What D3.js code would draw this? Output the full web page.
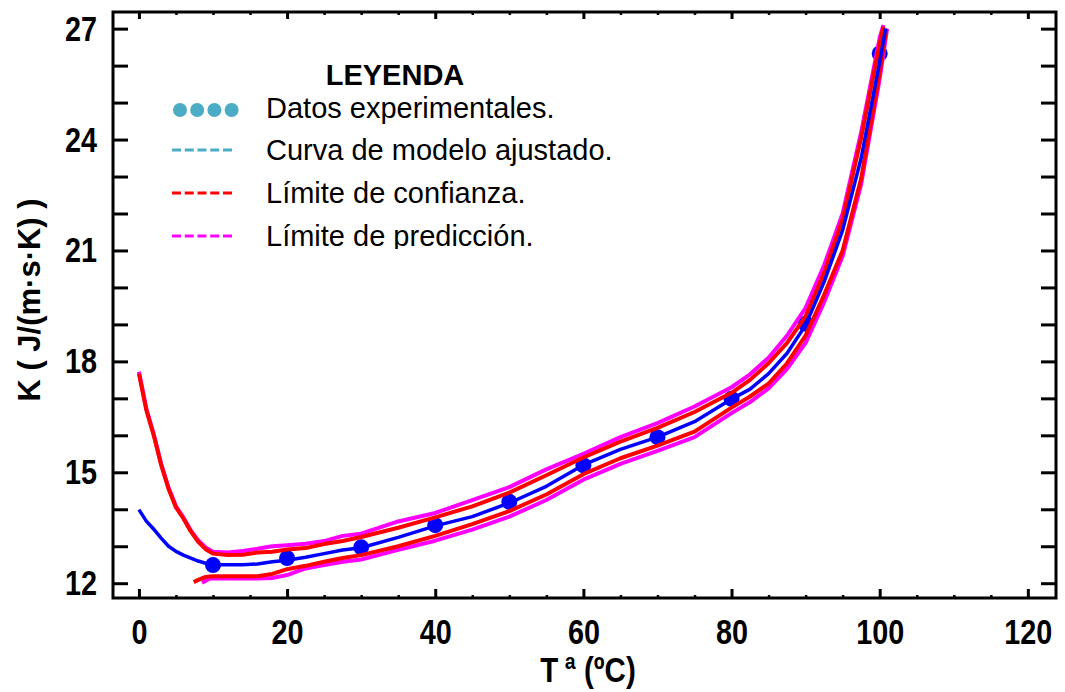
<!DOCTYPE html>
<html>
<head>
<meta charset="utf-8">
<script src="https://cdn.jsdelivr.net/npm/d3@7"></script>
<style>
  html, body { margin: 0; padding: 0; background: #fff; }
  svg { display: block; }
</style>
</head>
<body>
<svg id="chart" width="1065" height="692"></svg>
<script>
// ------------------------------------------------------------
// data
// ------------------------------------------------------------
var tempExp = [10, 20, 30, 40, 50, 60, 70, 80, 90, 100];
var kExp = [12.49, 12.68, 12.97, 13.57, 14.2, 15.19, 15.95, 16.99, 19.02, 26.33];

// fitted model curve
var fitT = [0, 1, 2, 3, 4, 5, 6, 7, 8, 9, 10, 12, 14, 16, 18, 20, 22.5, 25, 27.5, 30,
  35, 40, 45, 50, 55, 60, 65, 70, 75, 80, 82.5, 85, 87.5, 90, 92.5, 95, 97.5, 100, 100.8];
var fitK = [13.99, 13.68, 13.46, 13.22, 13.0, 12.86, 12.76, 12.68, 12.6, 12.54, 12.5,
  12.5, 12.5, 12.52, 12.58, 12.62, 12.7, 12.8, 12.9, 12.96,
  13.24, 13.55, 13.8, 14.17, 14.62, 15.2, 15.62, 15.95, 16.37, 16.98,
  17.25, 17.67, 18.22, 18.98, 20.15, 21.55, 23.5, 26.1, 27.0];

// upper limits (confidence / prediction)
var upperT = [0, 1, 2, 3, 4, 5, 6, 7, 8, 9, 10, 12, 14, 16, 18, 20, 22.5, 25, 27.5, 30,
  35, 40, 45, 50, 55, 60, 65, 70, 75, 80, 82.5, 85, 87.5, 90, 92.5, 95, 97.5, 100, 100.5];
var confHiK = [17.67, 16.68, 16.0, 15.2, 14.55, 14.05, 13.75, 13.4, 13.12, 12.92, 12.8,
  12.76, 12.77, 12.83, 12.85, 12.91, 12.95, 13.06, 13.14, 13.25,
  13.5, 13.78, 14.08, 14.45, 14.92, 15.4, 15.83, 16.2, 16.63, 17.15,
  17.5, 17.95, 18.5, 19.22, 20.4, 21.85, 24.05, 26.6, 27.05];
var predHiK = [17.72, 16.72, 16.03, 15.23, 14.58, 14.08, 13.78, 13.43, 13.16, 12.97, 12.85,
  12.83, 12.87, 12.93, 13.0, 13.03, 13.07, 13.14, 13.28, 13.34,
  13.67, 13.9, 14.25, 14.6, 15.08, 15.5, 15.95, 16.33, 16.78, 17.3,
  17.65, 18.1, 18.7, 19.45, 20.6, 22.0, 24.2, 26.75, 27.1];

// lower limits
var confLoT = [7.4, 8, 9, 10, 12, 14, 16, 18, 20, 22.5, 25, 27.5, 30,
  35, 40, 45, 50, 55, 60, 65, 70, 75, 80, 82.5, 85, 87.5, 90, 92.5, 95, 97.5, 100, 100.9];
var confLoK = [12.03, 12.09, 12.17, 12.19, 12.19, 12.19, 12.19, 12.25, 12.38, 12.47, 12.58, 12.68, 12.76,
  13.0, 13.28, 13.6, 13.95, 14.4, 14.95, 15.38, 15.72, 16.1, 16.75,
  17.05, 17.4, 17.95, 18.7, 19.8, 21.0, 22.95, 25.8, 27.0];
var predLoT = [8.5, 9.6, 12, 14, 16, 18, 20, 22.5, 25, 27.5, 30,
  35, 40, 45, 50, 55, 60, 65, 70, 75, 80, 82.5, 85, 87.5, 90, 92.5, 95, 97.5, 100, 101];
var predLoK = [12.01, 12.13, 12.13, 12.13, 12.13, 12.14, 12.22, 12.4, 12.49, 12.58, 12.64,
  12.9, 13.15, 13.45, 13.8, 14.25, 14.8, 15.23, 15.58, 15.95, 16.6,
  16.9, 17.27, 17.8, 18.5, 19.6, 20.85, 22.8, 25.65, 27.0];

var xMajorTicks = [0, 20, 40, 60, 80, 100, 120];
var xMinorTicks = [5, 10, 15, 25, 30, 35, 45, 50, 55, 65, 70, 75, 85, 90, 95, 105, 110, 115];
var yTicks = [12, 13, 14, 15, 16, 17, 18, 19, 20, 21, 22, 23, 24, 25, 26, 27];
var yTickLabels = [12, 15, 18, 21, 24, 27];

var legendTitle = 'LEYENDA';
var legendLabels = ['Datos experimentales.', 'Curva de modelo ajustado.',
  'Límite de confianza.', 'Límite de predicción.'];

// ------------------------------------------------------------
// chart
// ------------------------------------------------------------
var W = 1065, H = 692;
var margin = {top: 12, right: 9, bottom: 94, left: 113};
var width = W - margin.left - margin.right;
var height = H - margin.top - margin.bottom;
var FONT = '"Liberation Sans", Arial, Helvetica, sans-serif';

var svg = d3.select('#chart');

var x = d3.scaleLinear().domain([-3.5, 123.8]).range([0, width]);
var y = d3.scaleLinear().domain([11.6, 27.45]).range([height, 0]);

var g = svg.append('g')
  .attr('transform', 'translate(' + margin.left + ',' + margin.top + ')');

g.append('clipPath').attr('id', 'plot-clip')
  .append('rect').attr('width', width).attr('height', height);

function pairs(ts, ks) {
  return ts.map(function(t, i) { return [t, ks[i]]; });
}

var line = d3.line()
  .x(function(d) { return x(d[0]); })
  .y(function(d) { return y(d[1]); });

var plot = g.append('g').attr('clip-path', 'url(#plot-clip)');

// experimental points
plot.selectAll('circle.exp')
  .data(pairs(tempExp, kExp))
  .enter().append('circle')
  .attr('class', 'exp')
  .attr('cx', function(d) { return x(d[0]); })
  .attr('cy', function(d) { return y(d[1]); })
  .attr('r', 8)
  .attr('fill', '#0000ff');

var curves = [
  {t: upperT, k: predHiK, color: '#ff00ff', w: 4},
  {t: predLoT, k: predLoK, color: '#ff00ff', w: 4},
  {t: upperT, k: confHiK, color: '#ff0000', w: 4},
  {t: confLoT, k: confLoK, color: '#ff0000', w: 4},
  {t: fitT, k: fitK, color: '#0000ff', w: 3.5}
];

curves.forEach(function(c) {
  plot.append('path')
    .datum(pairs(c.t, c.k))
    .attr('d', line)
    .attr('fill', 'none')
    .attr('stroke', c.color)
    .attr('stroke-width', c.w)
    .attr('stroke-linejoin', 'round');
});

// ------------------------------------------------------------
// axes
// ------------------------------------------------------------
function styleAxis(sel, tickWidth) {
  sel.select('.domain').remove();
  sel.selectAll('.tick line').attr('stroke', '#000').attr('stroke-width', tickWidth);
  sel.selectAll('.tick text')
    .attr('fill', '#000')
    .attr('font-family', FONT)
    .attr('font-weight', 'bold')
    .attr('font-size', 36)
    .attr('transform', 'scale(0.8,1)');
}

g.append('g').attr('transform', 'translate(0,' + height + ')')
  .call(d3.axisBottom(x).tickValues(xMajorTicks).tickSizeInner(-9).tickSizeOuter(0).tickPadding(20))
  .call(styleAxis, 3);
g.append('g').attr('transform', 'translate(0,' + height + ')')
  .call(d3.axisBottom(x).tickValues(xMinorTicks).tickSizeInner(-3).tickSizeOuter(0).tickFormat(''))
  .call(styleAxis, 2.5);
g.append('g')
  .call(d3.axisTop(x).tickValues(xMajorTicks).tickSizeInner(-7).tickSizeOuter(0).tickFormat(''))
  .call(styleAxis, 3);
g.append('g')
  .call(d3.axisTop(x).tickValues(xMinorTicks).tickSizeInner(-3).tickSizeOuter(0).tickFormat(''))
  .call(styleAxis, 2.5);

g.append('g')
  .call(d3.axisLeft(y).tickValues(yTicks).tickSizeInner(-15).tickSizeOuter(0).tickPadding(20)
    .tickFormat(function(d) { return yTickLabels.indexOf(d) >= 0 ? d : ''; }))
  .call(styleAxis, 3);
g.append('g').attr('transform', 'translate(' + width + ',0)')
  .call(d3.axisRight(y).tickValues(yTicks).tickSizeInner(-15).tickSizeOuter(0).tickFormat(''))
  .call(styleAxis, 3);

// frame
g.append('rect')
  .attr('width', width).attr('height', height)
  .attr('fill', 'none').attr('stroke', '#000').attr('stroke-width', 3);

// axis titles
var xTitle = svg.append('text')
  .attr('transform', 'translate(588,682) scale(0.82,1)')
  .attr('text-anchor', 'middle')
  .attr('font-family', FONT).attr('font-weight', 'bold').attr('font-size', 36)
  .text('T');
xTitle.append('tspan').attr('dx', 8).text('ª (ºC)');

svg.append('text')
  .attr('transform', 'translate(29,300) rotate(-90)')
  .attr('text-anchor', 'middle')
  .attr('dy', '0.35em')
  .attr('font-family', FONT).attr('font-weight', 'bold').attr('font-size', 31)
  .text('K ( J/(m·s·K) )');

// ------------------------------------------------------------
// legend
// ------------------------------------------------------------
svg.append('clipPath').attr('id', 'legend-clip')
  .append('rect').attr('x', 150).attr('y', 40).attr('width', 500).attr('height', 209);

var legend = svg.append('g').attr('clip-path', 'url(#legend-clip)');

legend.append('text')
  .attr('x', 395).attr('y', 85)
  .attr('text-anchor', 'middle')
  .attr('font-family', FONT).attr('font-weight', 'bold').attr('font-size', 29)
  .text(legendTitle);

var legendColors = ['#4bacc6', '#4bacc6', '#ff0000', '#ff00ff'];
var rowY = [110, 150, 193, 236];
var baseY = [118, 160, 203, 246];

legend.selectAll('text.item')
  .data(legendLabels)
  .enter().append('text')
  .attr('class', 'item')
  .attr('x', 266)
  .attr('y', function(d, i) { return baseY[i]; })
  .attr('font-family', FONT).attr('font-size', 29)
  .attr('fill', '#000')
  .text(function(d) { return d; });

// dots symbol
legend.selectAll('circle.sym')
  .data([0, 1, 2, 3])
  .enter().append('circle')
  .attr('class', 'sym')
  .attr('cx', function(d) { return 180 + d * 17.2; })
  .attr('cy', rowY[0])
  .attr('r', 7)
  .attr('fill', legendColors[0]);

// dashed symbols
[1, 2, 3].forEach(function(i) {
  legend.append('line')
    .attr('x1', 172).attr('x2', 232)
    .attr('y1', rowY[i]).attr('y2', rowY[i])
    .attr('stroke', legendColors[i])
    .attr('stroke-width', 3)
    .attr('stroke-dasharray', '9,3.75');
});
</script>
</body>
</html>
